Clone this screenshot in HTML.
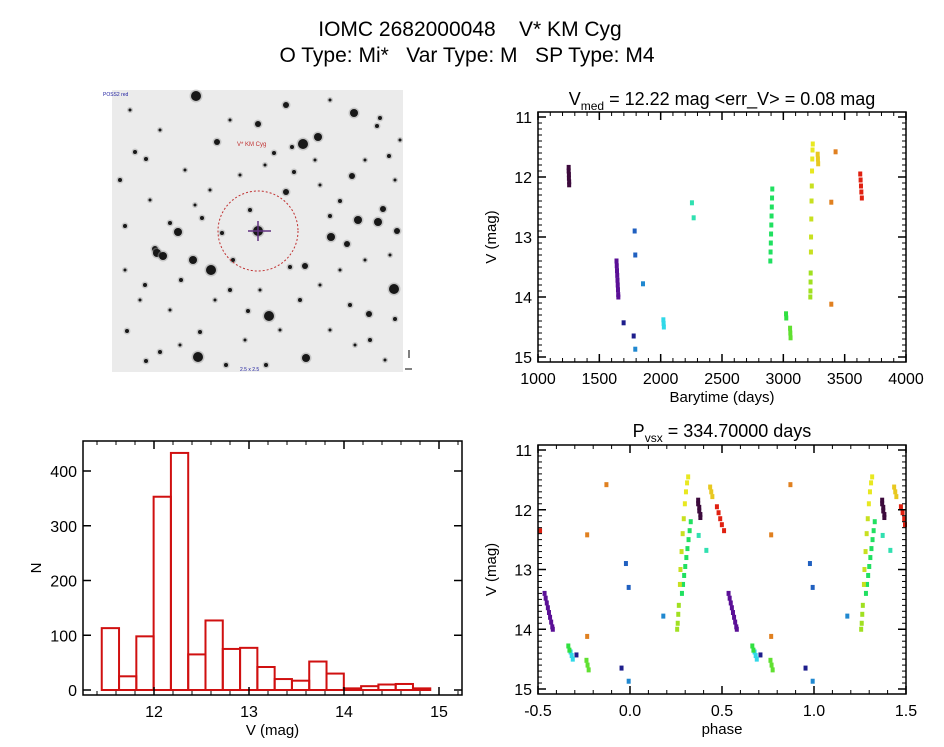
<!DOCTYPE html>
<html><head><meta charset="utf-8"><style>
html,body{margin:0;padding:0;background:#fff;}
svg{display:block;font-family:"Liberation Sans",sans-serif;}
</style></head><body>
<svg id="root" width="944" height="747" viewBox="0 0 944 747">
<text x="470" y="36" font-size="21" text-anchor="middle" xml:space="preserve">IOMC 2682000048    V* KM Cyg</text>
<text x="467" y="62" font-size="21" text-anchor="middle" xml:space="preserve">O Type: Mi*   Var Type: M   SP Type: M4</text>
<g id="img"></g>
<g id="lc"></g>
<g id="hist"></g>
<g id="ph"></g>
</svg>
<script>
// ---- Light curve data ----
const palette = ["#3c0a3c","#5a0f96","#1e1e8c","#2060c0","#2088d0","#30d8e8","#30e0b0","#20e060","#30e040","#60e030","#a0e020","#c8e020","#e8e820","#e8c820","#e08020","#e02010"];
const lcTime = [1250,1250,1252,1252,1254,1254,
 1640,1642,1644,1646,1648,1650,1652,1654,1655,
 1698,1780,1788,1793,1793,1856,
 2022,2024,2026,2255,2269,
 2894,2896,2898,2900,2902,2904,2906,2908,2910,
 3022,3024,3055,3057,3059,
 3220,3221,3222,3223,3225,3226,3228,3230,3232,3234,3236,3238,3240,
 3280,3282,3284,3391,3391,3426,
 3627,3630,3633,3636,3640];
const lcMag = [11.84,11.9,11.96,12.02,12.08,12.13,
 13.4,13.48,13.56,13.64,13.72,13.8,13.88,13.96,14.0,
 14.43,14.65,12.9,13.3,14.87,13.78,
 14.38,14.44,14.5,12.43,12.68,
 13.4,13.25,13.1,12.95,12.8,12.65,12.5,12.35,12.2,
 14.28,14.35,14.52,14.6,14.68,
 14.0,13.9,13.75,13.6,13.25,13.0,12.7,12.4,12.15,11.9,11.7,11.55,11.45,
 11.62,11.7,11.78,12.42,14.12,11.58,
 11.95,12.05,12.15,12.25,12.35];
const lcGroup = [0,0,0,0,0,0,
 1,1,1,1,1,1,1,1,1,
 2,2,3,3,4,4,
 5,5,5,6,6,
 7,7,7,7,7,7,7,7,7,
 8,8,9,9,9,
 10,10,10,10,11,11,11,11,11,12,12,12,12,
 13,13,13,14,14,14,
 15,15,15,15,15];
const period = 334.7;
const epoch = 1126;
// ---- Histogram data ----
const histStart = 11.45;
const histWidth = 0.182;
const histCounts = [113,25,98,353,433,65,127,75,77,42,20,17,52,30,3,7,10,11,3];
const lcXTicks = [1000,1500,2000,2500,3000,3500,4000];
const magTicks = [11,12,13,14,15];
const histXTicks = [12,13,14,15];
const histYTicks = [0,100,200,300,400];
const phaseTicks = [-0.5,0.0,0.5,1.0,1.5];

const NS="http://www.w3.org/2000/svg";
function mk(parent,tag,attrs,text){const e=document.createElementNS(NS,tag);for(const k in attrs)e.setAttribute(k,attrs[k]);if(text!==undefined)e.textContent=text;parent.appendChild(e);return e;}
function lin(d0,d1,r0,r1){return v=>r0+(v-d0)/(d1-d0)*(r1-r0);}

function frame(g,x0,y0,x1,y1,xs,ys,xMajor,xMinor,yMajor,yMinor,xlab,ylab,xfmt,yfmt){
  const r=mk(g,"rect",{x:x0,y:y0,width:x1-x0,height:y1-y0,fill:"none",stroke:"#000","stroke-width":1.5});
  
  
  xMinor.forEach(v=>{const X=xs(v);mk(g,"line",{x1:X,y1:y1,x2:X,y2:y1-4,stroke:"#000"});mk(g,"line",{x1:X,y1:y0,x2:X,y2:y0+4,stroke:"#000"});});
  yMinor.forEach(v=>{const Y=ys(v);mk(g,"line",{x1:x0,y1:Y,x2:x0+4,y2:Y,stroke:"#000"});mk(g,"line",{x1:x1,y1:Y,x2:x1-4,y2:Y,stroke:"#000"});});
  xMajor.forEach(v=>{const X=xs(v);mk(g,"line",{x1:X,y1:y1,x2:X,y2:y1-8,stroke:"#000","stroke-width":1.5});mk(g,"line",{x1:X,y1:y0,x2:X,y2:y0+8,stroke:"#000","stroke-width":1.5});
    const t=mk(g,"text",{x:X,y:y1+22,"font-size":16,"text-anchor":"middle"},xfmt(v));
    
    });
  yMajor.forEach(v=>{const Y=ys(v);mk(g,"line",{x1:x0,y1:Y,x2:x0+8,y2:Y,stroke:"#000","stroke-width":1.5});mk(g,"line",{x1:x1,y1:Y,x2:x1-8,y2:Y,stroke:"#000","stroke-width":1.5});
    const t=mk(g,"text",{x:x0-6,y:Y+6,"font-size":16,"text-anchor":"end"},yfmt(v));
    
    });
  const xt=mk(g,"text",{x:(x0+x1)/2,y:y1+40,"font-size":15,"text-anchor":"middle"},xlab);
  
  
  const yt=mk(g,"text",{x:0,y:0,"font-size":15,"text-anchor":"middle",transform:`translate(${x0-42},${(y0+y1)/2}) rotate(-90)`},ylab);
  
  
}
function range(a,b,s){const o=[];for(let v=a;v<=b+1e-9;v+=s)o.push(+v.toFixed(4));return o;}

// ---- Light curve ----
(function(){
  const g=document.getElementById("lc");
  const x0=538,x1=906,y0=112,y1=362;
  const xs=lin(1000,4000,x0,x1), ys=lin(11,15,117,357);
  const t=mk(g,"text",{x:722,y:105,"font-size":18,"text-anchor":"middle"});
  
  
  t.innerHTML='V<tspan font-size="12" dy="5">med</tspan><tspan dy="-5"> = 12.22 mag &lt;err_V&gt; = 0.08 mag</tspan>';
  lcTime.forEach((tt,i)=>{const p=mk(g,"rect",{x:xs(tt)-2,y:ys(lcMag[i])-2.5,width:4,height:5,fill:palette[lcGroup[i]]});
    
    });
  frame(g,x0,y0,x1,y1,xs,ys,lcXTicks,range(1000,4000,100),magTicks,range(11,15,0.1),"Barytime (days)","V (mag)",v=>String(v),v=>String(v));
})();

// ---- Phase plot ----
(function(){
  const g=document.getElementById("ph");
  const x0=538,x1=906,y0=445,y1=694;
  const xs=lin(-0.5,1.5,x0,x1), ys=lin(11,15,450,689);
  const t=mk(g,"text",{x:722,y:437,"font-size":18,"text-anchor":"middle"});
  
  
  t.innerHTML='P<tspan font-size="12" dy="5">vsx</tspan><tspan dy="-5"> = 334.70000 days</tspan>';
  lcTime.forEach((tt,i)=>{
    let p=((tt-epoch)/period)%1; if(p<0)p+=1;
    [p-1,p,p+1].forEach(q=>{ if(q<-0.5||q>1.5)return;
      const X=Math.max(x0,Math.min(x1-3,xs(q)-2));
      const r=mk(g,"rect",{x:X,y:ys(lcMag[i])-2.5,width:4,height:5,fill:palette[lcGroup[i]]});
      
      });
  });
  frame(g,x0,y0,x1,y1,xs,ys,phaseTicks,range(-0.5,1.5,0.1),magTicks,range(11,15,0.1),"phase","V (mag)",v=>v.toFixed(1),v=>String(v));
})();

// ---- Histogram ----
(function(){
  const g=document.getElementById("hist");
  const x0=83,x1=462,y0=441,y1=695;
  const xs=lin(12,13,154,249), ys=lin(0,400,690,471);
  histCounts.forEach((c,i)=>{const a=histStart+i*histWidth;
    const r=mk(g,"rect",{x:xs(a),y:ys(c),width:xs(a+histWidth)-xs(a),height:ys(0)-ys(c),fill:"none",stroke:"#d01010","stroke-width":2});
    
    });
  frame(g,x0,y0,x1,y1,xs,ys,histXTicks,range(11.4,15.2,0.2),histYTicks,[],"V (mag)","N",v=>String(v),v=>String(v));
})();

// ---- Sky image (decorative) ----
(function(){
  const g=document.getElementById("img");
  mk(g,"rect",{x:112,y:90,width:291,height:282,fill:"#ebebeb"});
  const stars=[[196,96,5],[258,124,3],[303,144,5],[318,137,4],[217,142,3],[274,153,2],[286,105,3],[354,113,4],[377,126,2],[294,172,2],[352,176,3],[383,209,3],[286,192,3],[340,201,2],[331,237,4],[358,220,4],[378,222,4],[347,244,3],[397,231,3],[258,231,5],[178,232,4],[155,249,3],[157,253,4],[163,256,4],[193,260,4],[211,270,5],[181,280,2],[305,266,3],[290,267,2],[269,316,5],[248,311,2],[200,332,2],[198,357,5],[306,358,4],[394,289,5],[350,305,2],[369,314,3],[127,331,2],[146,361,2],[135,152,2],[222,233,2],[202,218,2],[125,226,2],[146,159,2],[170,223,2],[233,260,2],[395,319,2],[292,147,2],[330,216,2],[160,352,2],[370,340,2],[226,365,2],[380,118,2],[250,210,2],[230,290,2],[300,300,2],[145,285,2],[120,180,2],[389,156,2],[266,365,2],
  [130,110,1.5],[160,130,1.5],[185,170,1.5],[210,190,1.5],[240,175,1.5],[265,165,1.5],[320,185,1.5],[365,160,1.5],[395,180,1.5],[125,270,1.5],[140,300,1.5],[170,310,1.5],[215,300,1.5],[260,290,1.5],[280,330,1.5],[330,330,1.5],[355,345,1.5],[385,360,1.5],[245,340,1.5],[180,345,1.5],[320,285,1.5],[340,270,1.5],[365,260,1.5],[390,255,1.5],[230,120,1.5],[330,100,1.5],[400,140,1.5],[150,200,1.5],[195,205,1.5],[315,160,1.5]];
  stars.forEach(s=>{mk(g,"circle",{cx:s[0],cy:s[1],r:s[2]+1.5,fill:"#999",opacity:0.45});mk(g,"circle",{cx:s[0],cy:s[1],r:s[2],fill:"#181818"});});
  mk(g,"circle",{cx:258,cy:231,r:40,fill:"none",stroke:"#c03030","stroke-width":1,"stroke-dasharray":"2,2"});
  mk(g,"line",{x1:248,y1:231,x2:271,y2:231,stroke:"#603080","stroke-width":1.5});
  mk(g,"line",{x1:258,y1:221,x2:258,y2:241,stroke:"#603080","stroke-width":1.5});
  mk(g,"text",{x:237,y:146,"font-size":6,fill:"#c03030"},"V* KM Cyg");
  mk(g,"text",{x:103,y:96,"font-size":5,fill:"#2020a0"},"POSS2 red");
  mk(g,"text",{x:240,y:371,"font-size":5,fill:"#2020a0"},"2.5 x 2.5");
  mk(g,"line",{x1:405,y1:369,x2:412,y2:369,stroke:"#000"});
  mk(g,"line",{x1:409,y1:350,x2:409,y2:358,stroke:"#000"});
})();
</script>
</body></html>
